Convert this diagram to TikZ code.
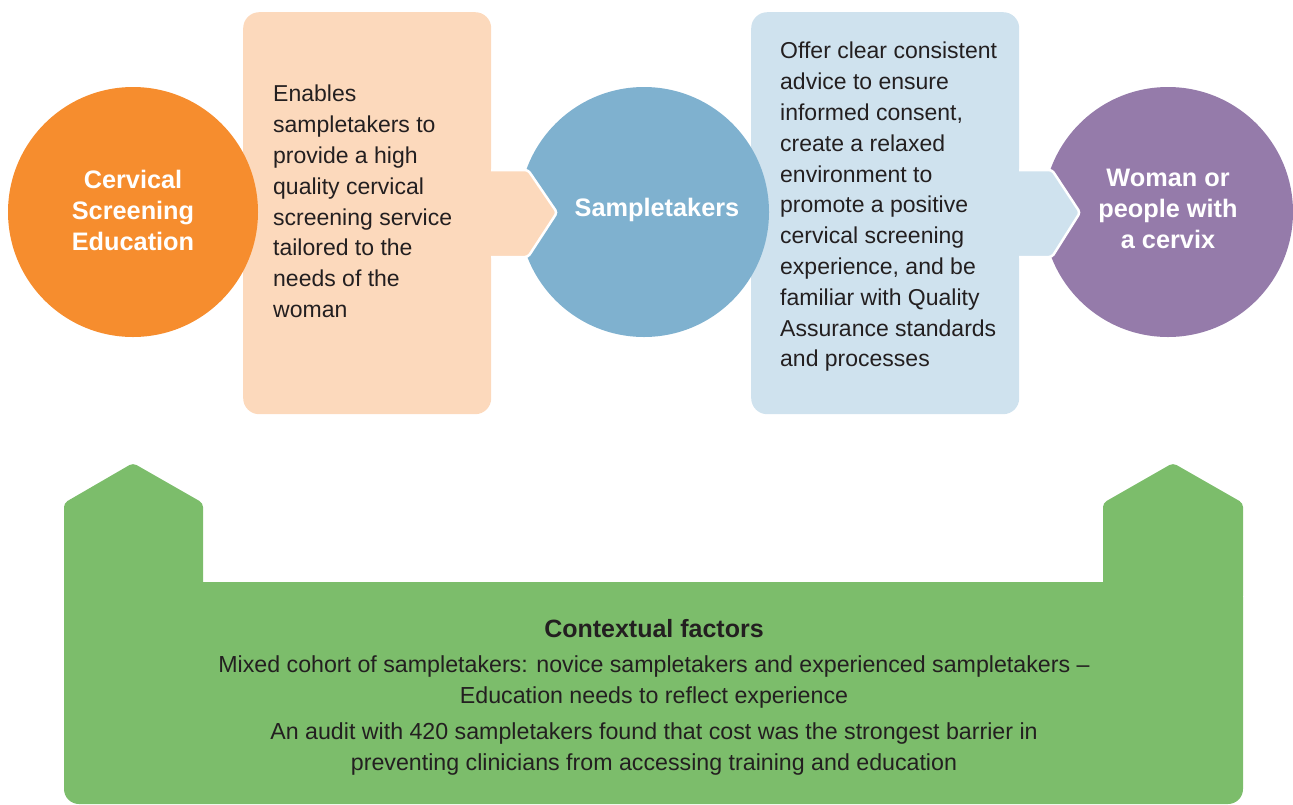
\documentclass[tikz,border=0pt]{standalone}
\usepackage{fontspec}
\setmainfont{Liberation Sans}
\definecolor{eduorange}{HTML}{F68D2E}
\definecolor{edupeach}{HTML}{FCD9BC}
\definecolor{takerblue}{HTML}{7FB1CF}
\definecolor{takerpale}{HTML}{CFE2EE}
\definecolor{womanpurple}{HTML}{957BAA}
\definecolor{ctxgreen}{HTML}{7CBD6B}
\definecolor{inkdark}{HTML}{231F20}
\begin{document}
\begin{tikzpicture}[x=1pt,y=-1pt,
  infobox/.style={rounded corners=16pt, minimum width=#1, minimum height=402pt,
    anchor=north west, inner sep=0pt},
  disc/.style={circle, minimum size=250pt, inner sep=0pt},
  disctext/.style={text=white, align=center, inner sep=0pt,
    font=\bfseries\fontsize{25.3}{31}\selectfont},
  bodytext/.style={text=inkdark, align=left, anchor=north west, inner sep=0pt,
    font=\fontsize{23}{30.8}\selectfont},
  ctxtext/.style={text=inkdark, align=center, inner sep=0pt,
    font=\fontsize{23.2}{31}\selectfont},
  chevron/.style={draw=white, line width=2.5pt, rounded corners=3pt}]
\useasboundingbox (0,0) rectangle (1293,804);

% explanatory boxes
\node[infobox=248pt, fill=edupeach] (edubox) at (243,12) {};
\node[infobox=268pt, fill=takerpale] (takerbox) at (751,12) {};

% the three circles
\node[disc, fill=eduorange] (edu) at (133,212) {};
\node[disc, fill=takerblue] (taker) at (644,212) {};
\node[disc, fill=womanpurple] (woman) at (1168,212) {};

% chevrons leading out of the boxes
\fill[edupeach] (485,170) rectangle (493,257);
\filldraw[edupeach, chevron] (491,170) -- (528,170) -- (557,212.5) -- (528,257) -- (491,257);
\fill[takerpale] (1013,170) rectangle (1021,257);
\filldraw[takerpale, chevron] (1019,170) -- (1052,170) -- (1080,212.5) -- (1052,257) -- (1019,257);

% circle labels
\node[disctext] (edulabel) at (133,210) {Cervical\\Screening\\Education};
\node[disctext] (takerlabel) at (657,210) {Sampletakers};
\node[disctext] (womanlabel) at (1168,209) {Woman or\\people with\\a cervix};

% box texts
\node[bodytext] (edutext) at (273,85) {Enables\\sampletakers to\\provide a high\\quality cervical\\screening service\\tailored to the\\needs of the\\woman};
\node[bodytext] (takertext) at (780,42) {Offer clear consistent\\advice to ensure\\informed consent,\\create a relaxed\\environment to\\promote a positive\\cervical screening\\experience, and be\\familiar with Quality\\Assurance standards\\and processes};

% contextual factors banner: base band and two pointed uprights
\fill[ctxgreen, rounded corners=15pt] (64,582) -- (1243,582) -- (1243,804) -- (64,804) -- cycle;
\fill[ctxgreen, rounded corners=4pt] (64,600) -- (64,503) -- (133,463) -- (203,503) -- (203,600) -- cycle;
\fill[ctxgreen, rounded corners=4pt] (1103,600) -- (1103,503) -- (1173,463) -- (1243,503) -- (1243,600) -- cycle;
\fill[ctxgreen] (64,590) rectangle (1243,620);

\node[ctxtext, font=\bfseries\fontsize{25}{31}\selectfont] (ctxtitle) at (654,629) {Contextual factors};
\node[ctxtext] (ctxmix) at (654,682) {Mixed cohort of sampletakers: novice sampletakers and experienced sampletakers –\\Education needs to reflect experience};
\node[ctxtext] (ctxaudit) at (654,749) {An audit with 420 sampletakers found that cost was the strongest barrier in\\preventing clinicians from accessing training and education};
\end{tikzpicture}
\end{document}
